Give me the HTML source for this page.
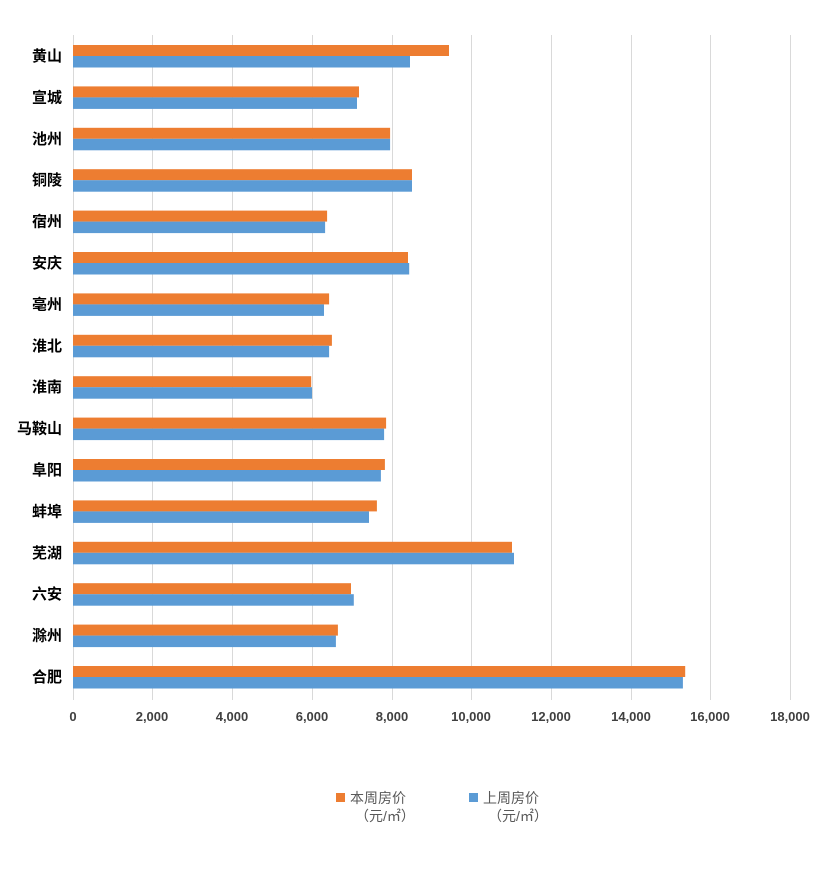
<!DOCTYPE html>
<html><head><meta charset="utf-8"><style>
body{margin:0;background:#fff;}
svg{display:block;font-family:"Liberation Sans","Noto Sans CJK SC",sans-serif;}
</style></head><body>
<svg width="818" height="869" xmlns="http://www.w3.org/2000/svg">
<rect x="0" y="0" width="818" height="869" fill="#fff"/>
<g stroke="#d9d9d9" stroke-width="1">
<line x1="152.5" y1="35" x2="152.5" y2="700"/><line x1="232.5" y1="35" x2="232.5" y2="700"/>
<line x1="312.5" y1="35" x2="312.5" y2="700"/><line x1="392.5" y1="35" x2="392.5" y2="700"/>
<line x1="471.5" y1="35" x2="471.5" y2="700"/><line x1="551.5" y1="35" x2="551.5" y2="700"/>
<line x1="631.5" y1="35" x2="631.5" y2="700"/><line x1="710.5" y1="35" x2="710.5" y2="700"/>
<line x1="790.5" y1="35" x2="790.5" y2="700"/>
<line x1="73.5" y1="35" x2="73.5" y2="700"/>
</g>
<g fill="#ed7d31">
<rect x="73" y="45" width="376" height="11"/>
<rect x="73" y="86.4" width="286" height="11"/>
<rect x="73" y="127.8" width="317.1" height="11"/>
<rect x="73" y="169.2" width="339" height="11"/>
<rect x="73" y="210.6" width="254.1" height="11"/>
<rect x="73" y="252" width="335" height="11"/>
<rect x="73" y="293.4" width="256.1" height="11"/>
<rect x="73" y="334.8" width="258.9" height="11"/>
<rect x="73" y="376.2" width="238.2" height="11"/>
<rect x="73" y="417.6" width="313.1" height="11"/>
<rect x="73" y="459" width="311.9" height="11"/>
<rect x="73" y="500.4" width="303.9" height="11"/>
<rect x="73" y="541.8" width="439" height="11"/>
<rect x="73" y="583.2" width="278" height="11"/>
<rect x="73" y="624.6" width="264.9" height="11"/>
<rect x="73" y="666" width="612.2" height="11"/>
</g>
<g fill="#5b9bd5">
<rect x="73" y="56" width="337" height="11.5"/>
<rect x="73" y="97.4" width="284" height="11.5"/>
<rect x="73" y="138.8" width="317.1" height="11.5"/>
<rect x="73" y="180.2" width="339" height="11.5"/>
<rect x="73" y="221.6" width="252.1" height="11.5"/>
<rect x="73" y="263" width="336.2" height="11.5"/>
<rect x="73" y="304.4" width="251" height="11.5"/>
<rect x="73" y="345.8" width="256.1" height="11.5"/>
<rect x="73" y="387.2" width="239" height="11.5"/>
<rect x="73" y="428.6" width="311.1" height="11.5"/>
<rect x="73" y="470" width="307.9" height="11.5"/>
<rect x="73" y="511.4" width="296" height="11.5"/>
<rect x="73" y="552.8" width="441" height="11.5"/>
<rect x="73" y="594.2" width="280.8" height="11.5"/>
<rect x="73" y="635.6" width="262.9" height="11.5"/>
<rect x="73" y="677" width="609.9" height="11.5"/>
</g>
<g font-size="13" font-weight="bold" fill="#404040" text-anchor="middle">
<text x="73" y="721">0</text><text x="152" y="721">2,000</text><text x="232" y="721">4,000</text>
<text x="312" y="721">6,000</text><text x="392" y="721">8,000</text><text x="471" y="721">10,000</text>
<text x="551" y="721">12,000</text><text x="631" y="721">14,000</text><text x="710" y="721">16,000</text>
<text x="790" y="721">18,000</text>
</g>
<g font-size="15" font-weight="bold" fill="#000" text-anchor="end">
<text x="62" y="61">黄山</text>
<text x="62" y="102.4">宣城</text>
<text x="62" y="143.8">池州</text>
<text x="62" y="185.2">铜陵</text>
<text x="62" y="226.6">宿州</text>
<text x="62" y="268">安庆</text>
<text x="62" y="309.4">亳州</text>
<text x="62" y="350.8">淮北</text>
<text x="62" y="392.2">淮南</text>
<text x="62" y="433.6">马鞍山</text>
<text x="62" y="475">阜阳</text>
<text x="62" y="516.4">蚌埠</text>
<text x="62" y="557.8">芜湖</text>
<text x="62" y="599.2">六安</text>
<text x="62" y="640.6">滁州</text>
<text x="62" y="682">合肥</text>
</g>
<rect x="336" y="793" width="9" height="9" fill="#ed7d31"/>
<text x="350" y="803" font-size="14" fill="#595959">本周房价</text>
<text x="355" y="821" font-size="14" fill="#595959">（元/㎡）</text>
<rect x="469" y="793" width="9" height="9" fill="#5b9bd5"/>
<text x="483" y="803" font-size="14" fill="#595959">上周房价</text>
<text x="488" y="821" font-size="14" fill="#595959">（元/㎡）</text>
</svg>
</body></html>
